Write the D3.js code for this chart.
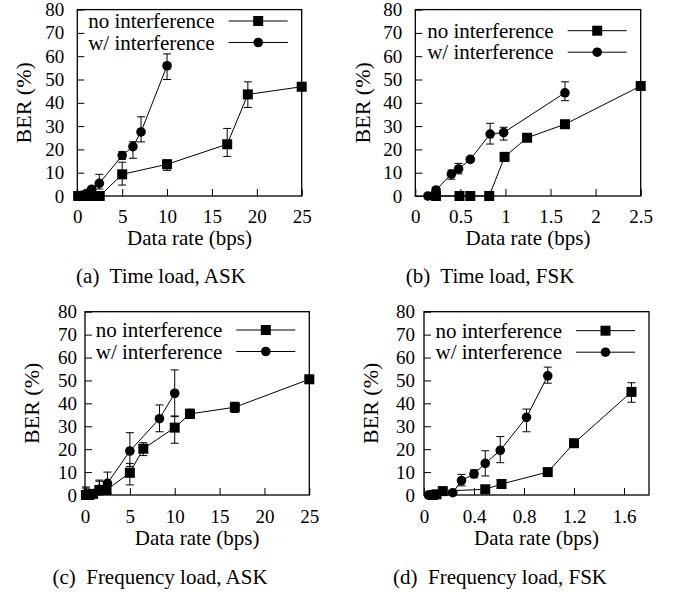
<!DOCTYPE html>
<html>
<head>
<meta charset="utf-8">
<script src="https://cdn.jsdelivr.net/npm/d3@7"></script>
<style>
  body { margin: 0; background: #fff; }
</style>
</head>
<body>
<script>
// ---- data ----
var berTicks = [0, 10, 20, 30, 40, 50, 60, 70, 80];
var askTicks = [0, 5, 10, 15, 20, 25];
var fskTimeTicks = [0, 0.5, 1, 1.5, 2, 2.5];
var fskFreqTicks = [0, 0.4, 0.8, 1.2, 1.6];
var seriesNames = ['no interference', 'w/ interference'];
var captions = ['(a)  Time load, ASK', '(b)  Time load, FSK', '(c)  Frequency load, ASK', '(d)  Frequency load, FSK'];

// (a) time load, ASK
var aNoX  = [0.1, 0.5, 1.0, 1.7, 2.5, 5, 10, 16.7, 19, 25];
var aNoY  = [0, 0, 0, 0, 0, 9.3, 13.6, 22.2, 43.6, 46.9];
var aNoLo = [0, 0, 0, 0, 0, 4.7, 11, 17, 38, 45.5];
var aNoHi = [0, 0, 0, 0, 0, 14.5, 15.5, 29, 49, 48];
var aWX   = [0.1, 0.5, 1.0, 1.6, 2.45, 5, 6.2, 7.1, 10];
var aWY   = [0, 0.3, 1, 2.9, 5.4, 17.4, 21.2, 27.5, 55.9];
var aWLo  = [0, 0, 0, 2, 3, 15.7, 16.2, 23.2, 50];
var aWHi  = [0, 0.5, 1.5, 3.8, 9.3, 19, 23.3, 34, 61];

// (b) time load, FSK
var bNoX  = [0.23, 0.49, 0.61, 0.82, 0.99, 1.24, 1.66, 2.5];
var bNoY  = [0, 0, 0, 0, 16.8, 25, 30.8, 47.2];
var bNoLo = [0, 0, 0, 0, 14.8, 23.5, 29.5, 46];
var bNoHi = [0, 0, 0, 0, 18.6, 26.5, 32, 48.2];
var bWX   = [0.14, 0.23, 0.4, 0.48, 0.61, 0.83, 0.98, 1.66];
var bWY   = [0, 2.6, 9.4, 11.6, 15.7, 26.6, 27.2, 44.3];
var bWLo  = [0, 1.5, 7.2, 9.5, 14.5, 22.3, 24, 40.9];
var bWHi  = [0, 3.5, 11.1, 14, 16.5, 31.2, 29.5, 49];

// (c) frequency load, ASK
var cNoX  = [0.1, 0.5, 0.9, 1.6, 2.4, 5, 6.5, 10, 11.7, 16.7, 25];
var cNoY  = [0, 0, 0.5, 2.2, 2.2, 9.7, 20.2, 29.4, 35.4, 38.3, 50.5];
var cNoLo = [0, 0, 0, 0.5, 0.5, 4.4, 17.2, 22.6, 33.4, 36, 49.5];
var cNoHi = [3, 0, 1, 6, 3, 13.8, 22.8, 34.5, 37.5, 40.5, 51.5];
var cWX   = [0.1, 0.5, 0.8, 1.6, 2.5, 5, 8.3, 10];
var cWY   = [0.5, 0, 0.3, 2.5, 5.1, 19.2, 33.3, 44.4];
var cWLo  = [0, 0, 0, 0, 0.5, 12.4, 27.6, 34.2];
var cWHi  = [3.5, 0.5, 1, 6.5, 10, 27.2, 39.3, 54.6];

// (d) frequency load, FSK
var dNoX  = [0.07, 0.1, 0.15, 0.49, 0.62, 0.99, 1.2, 1.66];
var dNoY  = [0, 0.3, 1.7, 2.5, 4.8, 10, 22.6, 45];
var dNoLo = [0, 0, 1, 1.5, 3.8, 8.8, 21, 40.5];
var dNoHi = [0, 0.5, 2.5, 3.5, 5.8, 11.2, 24, 49];
var dWX   = [0.035, 0.07, 0.23, 0.3, 0.4, 0.49, 0.61, 0.82, 0.99];
var dWY   = [0, 0, 1, 6.3, 9.2, 13.8, 19.5, 33.9, 52];
var dWLo  = [0, 0, 0.5, 4, 7.5, 8.3, 14.1, 27.6, 48.8];
var dWHi  = [0, 0, 1.5, 9, 11, 19.3, 25.5, 37.5, 55.8];

var SERIF = '"Times New Roman"';

function zipSeries(xs, ys, lo, hi) {
  return xs.map(function(d, i){ return {x: d, y: ys[i], lo: lo[i], hi: hi[i]}; });
}

var panels = [
  {xDom: [0, 25], xRange: [77.3, 301.7], yRange: [196, 9.6], xTicks: askTicks, yPad: 13, xPad: 14,
   yLabelX: 23, titleY: 245, capX: 161, capY: 283, legY: 21,
   no: zipSeries(aNoX, aNoY, aNoLo, aNoHi), w: zipSeries(aWX, aWY, aWLo, aWHi), cap: captions[0]},
  {xDom: [0, 2.5], xRange: [415.3, 640.7], yRange: [196, 9.6], xTicks: fskTimeTicks, yPad: 13, xPad: 14,
   yLabelX: 362, titleY: 245, capX: 490, capY: 283, legY: 30.7,
   no: zipSeries(bNoX, bNoY, bNoLo, bNoHi), w: zipSeries(bWX, bWY, bWLo, bWHi), cap: captions[1]},
  {xDom: [0, 25], xRange: [85, 309.3], yRange: [495, 311.7], xTicks: askTicks, yPad: 8, xPad: 15,
   yLabelX: 31, titleY: 545, capX: 160, capY: 584, legY: 330,
   no: zipSeries(cNoX, cNoY, cNoLo, cNoHi), w: zipSeries(cWX, cWY, cWLo, cWHi), cap: captions[2]},
  {xDom: [0, 1.8], xRange: [424, 649], yRange: [495, 311.7], xTicks: fskFreqTicks, yPad: 9, xPad: 15,
   yLabelX: 370, titleY: 545, capX: 500, capY: 584, legY: 330.7,
   no: zipSeries(dNoX, dNoY, dNoLo, dNoHi), w: zipSeries(dWX, dWY, dWLo, dWHi), cap: captions[3]}
];

var svg = d3.select('body').append('svg').attr('width', 678).attr('height', 593);

function label(parent, size, str) {
  return parent.append('text').style('font-family', SERIF).attr('font-size', size).text(str);
}

function marker(sel, shape) {
  if (shape === 'square') {
    sel.append('rect').attr('x', -5).attr('y', -5).attr('width', 10).attr('height', 10).attr('fill', '#000');
  } else {
    sel.append('circle').attr('r', 4.8).attr('fill', '#000');
  }
}

function drawSeries(g, x, y, data, shape) {
  var line = d3.line().x(function(d){ return x(d.x); }).y(function(d){ return y(d.y); });
  g.append('path').datum(data).attr('d', line)
    .attr('fill', 'none').attr('stroke', '#000').attr('stroke-width', 1);

  var eb = g.append('g').selectAll('g').data(data.filter(function(d){ return d.hi - d.lo > 0.6; }))
    .enter().append('g').attr('stroke', '#000').attr('stroke-width', 1);
  eb.append('line').attr('x1', function(d){ return x(d.x); }).attr('x2', function(d){ return x(d.x); })
    .attr('y1', function(d){ return y(d.lo); }).attr('y2', function(d){ return y(d.hi); });
  eb.append('line').attr('x1', function(d){ return x(d.x) - 4; }).attr('x2', function(d){ return x(d.x) + 4; })
    .attr('y1', function(d){ return y(d.lo); }).attr('y2', function(d){ return y(d.lo); });
  eb.append('line').attr('x1', function(d){ return x(d.x) - 4; }).attr('x2', function(d){ return x(d.x) + 4; })
    .attr('y1', function(d){ return y(d.hi); }).attr('y2', function(d){ return y(d.hi); });

  g.append('g').selectAll('g').data(data).enter().append('g')
    .attr('transform', function(d){ return 'translate(' + x(d.x) + ',' + y(d.y) + ')'; })
    .each(function(){ marker(d3.select(this), shape); });
}

function drawPanel(p) {
  var x = d3.scaleLinear().domain(p.xDom).range(p.xRange);
  var y = d3.scaleLinear().domain([0, 80]).range(p.yRange);
  var g = svg.append('g');

  var xAxis = g.append('g').attr('transform', 'translate(0,' + p.yRange[0] + ')')
    .call(d3.axisBottom(x).tickValues(p.xTicks).tickSize(-7).tickPadding(p.xPad).tickFormat(function(d){ return d; }));
  var yAxis = g.append('g').attr('transform', 'translate(' + p.xRange[0] + ',0)')
    .call(d3.axisLeft(y).tickValues(berTicks).tickSize(-7).tickPadding(p.yPad));
  [xAxis, yAxis].forEach(function(a){
    a.attr('font-size', 19).attr('font-family', null);
    a.selectAll('text').style('font-family', SERIF);
    a.select('.domain').remove();
    a.selectAll('line').attr('stroke', '#000');
  });

  g.append('rect').attr('x', p.xRange[0]).attr('y', p.yRange[1])
    .attr('width', p.xRange[1] - p.xRange[0]).attr('height', p.yRange[0] - p.yRange[1])
    .attr('fill', 'none').attr('stroke', '#000').attr('stroke-width', 1.3);

  drawSeries(g, x, y, p.no, 'square');
  drawSeries(g, x, y, p.w, 'circle');

  // legend
  var lineEnd = p.xRange[1] - 14, lineStart = lineEnd - 59;
  seriesNames.forEach(function(name, i){
    var ly = p.legY + i * 21.5;
    label(g, 21, name).attr('x', lineStart - 14).attr('y', ly).attr('dy', '0.34em')
      .attr('text-anchor', 'end');
    g.append('line').attr('x1', lineStart).attr('x2', lineEnd).attr('y1', ly).attr('y2', ly)
      .attr('stroke', '#000').attr('stroke-width', 1);
    var m = g.append('g').attr('transform', 'translate(' + (lineStart + 29.5) + ',' + ly + ')');
    marker(m, i === 0 ? 'square' : 'circle');
  });

  var cx = (p.xRange[0] + p.xRange[1]) / 2;
  label(g, 21, 'Data rate (bps)').attr('x', cx).attr('y', p.titleY).attr('text-anchor', 'middle');
  label(g, 22, 'BER (%)')
    .attr('transform', 'translate(' + p.yLabelX + ',' + ((p.yRange[0] + p.yRange[1]) / 2) + ') rotate(-90)')
    .attr('text-anchor', 'middle').attr('dy', '0.35em');
  label(svg, 21, p.cap).attr('x', p.capX).attr('y', p.capY).attr('text-anchor', 'middle')
    .style('white-space', 'pre');
}

panels.forEach(drawPanel);
</script>
</body>
</html>
